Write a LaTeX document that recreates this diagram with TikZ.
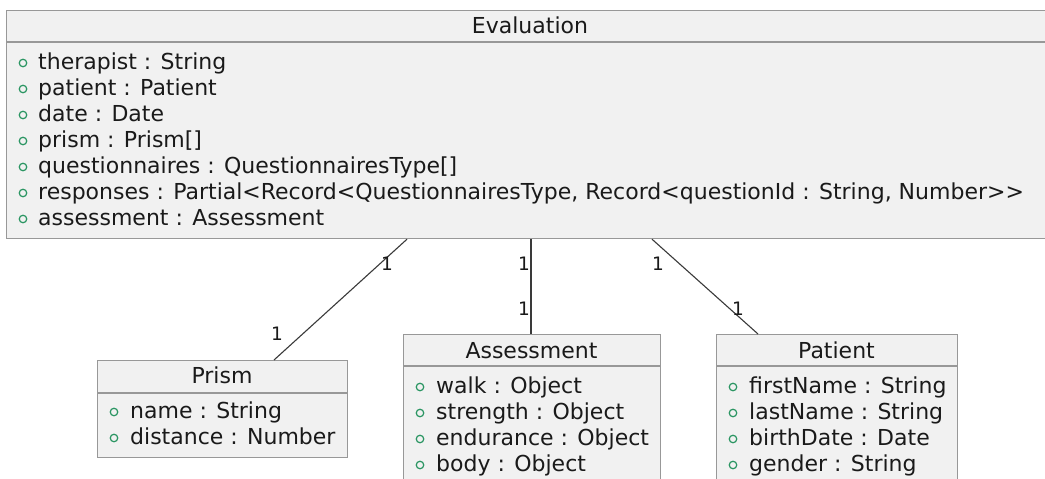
\documentclass[tikz,border=0pt]{standalone}
\usepackage{fontspec}
\setmainfont{DejaVu Sans}
\usetikzlibrary{calc}
\definecolor{boxfill}{HTML}{F1F1F1}
\definecolor{boxline}{HTML}{989898}
\definecolor{conn}{HTML}{3A3A3A}
\definecolor{pub}{HTML}{2A9562}
\definecolor{txt}{HTML}{1A1A1A}
\newcommand\gtgt{>\kern0pt>}
\tikzset{
  classbox/.style={draw=boxline, fill=boxfill, line width=1.2pt, anchor=north west, inner sep=0pt},
  sepline/.style={draw=boxline, line width=1.2pt},
  attr/.style={anchor=base west, inner sep=0pt, text=txt},
  ctitle/.style={anchor=base, inner sep=0pt, text=txt},
  pubicon/.style={circle, draw=pub, line width=1.2pt, minimum size=7.5pt, inner sep=0pt},
  mult/.style={font=\fontsize{18.5}{20}\selectfont, inner sep=0pt, text=txt},
  assoc/.style={draw=conn, line width=1.1pt},
}
\begin{document}
\begin{tikzpicture}[x=1pt,y=-1pt,font=\fontsize{22}{26}\selectfont]
\useasboundingbox (0,0) rectangle (1045,479);
\clip (0,0) rectangle (1045,479);
\fill[white] (0,0) rectangle (1045,479);

% Evaluation
\node[classbox, minimum width=1049pt, minimum height=228pt] (eval) at (6,10) {};
\draw[sepline] ($(eval.north west)+(0,32)$) -- ($(eval.north east)+(0,32)$);
\node[ctitle] (evalt) at (530,34) {Evaluation};
\node[pubicon] (ei1) at (23,63) {}; \node[attr] (ea1) at (38,69) {therapist : String};
\node[pubicon] (ei2) at (23,89) {}; \node[attr] (ea2) at (38,95) {patient : Patient};
\node[pubicon] (ei3) at (23,115) {}; \node[attr] (ea3) at (38,121) {date : Date};
\node[pubicon] (ei4) at (23,141) {}; \node[attr] (ea4) at (38,147) {prism : Prism[]};
\node[pubicon] (ei5) at (23,167) {}; \node[attr] (ea5) at (38,173) {questionnaires : QuestionnairesType[]};
\node[pubicon] (ei6) at (23,193) {}; \node[attr] (ea6) at (38,199) {responses : Partial<Record<QuestionnairesType, Record<questionId : String, Number\gtgt};
\node[pubicon] (ei7) at (23,219) {}; \node[attr] (ea7) at (38,225) {assessment : Assessment};

% Prism
\node[classbox, minimum width=250pt, minimum height=97pt] (prism) at (97,360) {};
\draw[sepline] ($(prism.north west)+(0,33)$) -- ($(prism.north east)+(0,33)$);
\node[ctitle] (prismt) at (222,383) {Prism};
\node[pubicon] (pi1) at (114,412) {}; \node[attr] (pa1) at (130,418) {name : String};
\node[pubicon] (pi2) at (114,438) {}; \node[attr] (pa2) at (130,444) {distance : Number};

% Assessment
\node[classbox, minimum width=257pt, minimum height=160pt] (assess) at (403,334) {};
\draw[sepline] ($(assess.north west)+(0,32)$) -- ($(assess.north east)+(0,32)$);
\node[ctitle] (assesst) at (531.5,358) {Assessment};
\node[pubicon] (ai1) at (420,387) {}; \node[attr] (aa1) at (436,393) {walk : Object};
\node[pubicon] (ai2) at (420,413) {}; \node[attr] (aa2) at (436,419) {strength : Object};
\node[pubicon] (ai3) at (420,439) {}; \node[attr] (aa3) at (436,445) {endurance : Object};
\node[pubicon] (ai4) at (420,465) {}; \node[attr] (aa4) at (436,471) {body : Object};

% Patient
\node[classbox, minimum width=241pt, minimum height=160pt] (patient) at (716,334) {};
\draw[sepline] ($(patient.north west)+(0,32)$) -- ($(patient.north east)+(0,32)$);
\node[ctitle] (patientt) at (836.5,358) {Patient};
\node[pubicon] (ti1) at (733,387) {}; \node[attr] (ta1) at (749,393) {firstName : String};
\node[pubicon] (ti2) at (733,413) {}; \node[attr] (ta2) at (749,419) {lastName : String};
\node[pubicon] (ti3) at (733,439) {}; \node[attr] (ta3) at (749,445) {birthDate : Date};
\node[pubicon] (ti4) at (733,465) {}; \node[attr] (ta4) at (749,471) {gender : String};

% Associations
\draw[assoc] ($(eval.south west)+(401,0)$) -- ($(prism.north west)+(177,0)$);
\draw[assoc] ($(eval.south west)+(525,0)$) -- ($(assess.north west)+(128,0)$);
\draw[assoc] ($(eval.south west)+(646,0)$) -- ($(patient.north west)+(42,0)$);

% Multiplicities
\node[mult] (m1) at (387,264) {1};
\node[mult] (m2) at (277,334) {1};
\node[mult] (m3) at (524,264) {1};
\node[mult] (m4) at (524,309) {1};
\node[mult] (m5) at (658,264) {1};
\node[mult] (m6) at (738,309) {1};
\end{tikzpicture}
\end{document}
